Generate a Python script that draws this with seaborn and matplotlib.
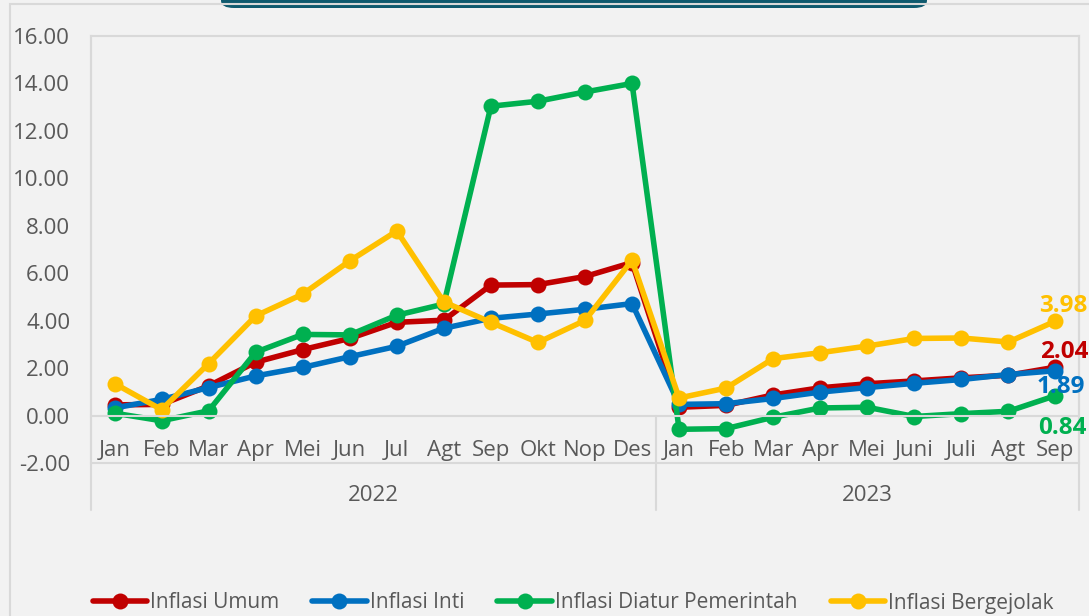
import matplotlib
matplotlib.use("Agg")
import matplotlib.pyplot as plt
from matplotlib.patches import Rectangle, FancyBboxPatch
import seaborn as sns
import pandas as pd
import numpy as np

# --- data ---
months = ["Jan", "Feb", "Mar", "Apr", "Mei", "Jun", "Jul", "Agt", "Sep", "Okt", "Nop", "Des",
          "Jan", "Feb", "Mar", "Apr", "Mei", "Juni", "Juli", "Agt", "Sep"]
years = ["2022", "2023"]
year_lengths = [12, 9]

inflasi_umum = [0.45, 0.47, 1.25, 2.25, 2.78, 3.25, 3.93, 4.02, 5.50, 5.52, 5.86, 6.45,
                0.35, 0.43, 0.87, 1.17, 1.34, 1.46, 1.59, 1.70, 2.04]
inflasi_inti = [0.32, 0.68, 1.18, 1.67, 2.03, 2.48, 2.92, 3.68, 4.10, 4.28, 4.48, 4.72,
                0.47, 0.50, 0.72, 0.99, 1.18, 1.36, 1.52, 1.73, 1.89]
inflasi_diatur = [0.10, -0.22, 0.20, 2.67, 3.42, 3.40, 4.23, 4.70, 13.04, 13.25, 13.64, 14.00,
                  -0.58, -0.55, -0.07, 0.32, 0.35, -0.04, 0.08, 0.18, 0.84]
inflasi_bergejolak = [1.35, 0.25, 2.19, 4.20, 5.12, 6.52, 7.78, 4.79, 3.93, 3.08, 4.01, 6.55,
                      0.74, 1.16, 2.40, 2.65, 2.93, 3.25, 3.27, 3.10, 3.98]

series_names = ["Inflasi Umum", "Inflasi Inti", "Inflasi Diatur Pemerintah", "Inflasi Bergejolak"]
series_values = [inflasi_umum, inflasi_inti, inflasi_diatur, inflasi_bergejolak]
colors = ["#C00000", "#0070C0", "#00B050", "#FFC000"]
# offset (points) of the end-of-line value label
label_offsets = [(6, 11), (4, -12), (5, -23), (6, 11)]

# --- style ---
sns.set_style("white")
bg = "#F2F2F2"
grey_line = "#D9D9D9"
text_col = "#595959"
plt.rcParams["font.family"] = ["Open Sans", "DejaVu Sans"]
plt.rcParams["axes.unicode_minus"] = False

W, H = 1089, 616
fig = plt.figure(figsize=(W / 100, H / 100), dpi=100, facecolor=bg)

# title box peeking in at the top, and the chart-area border
fig.patches.append(FancyBboxPatch((221 / W, 1 - 8 / H), (927 - 221) / W, 30 / H,
                                  boxstyle="round,pad=0,rounding_size=0.012",
                                  transform=fig.transFigure, facecolor="#0F5A6E",
                                  edgecolor="none", zorder=0))
fig.patches.append(Rectangle((10 / W, -0.05), 1.1, 1.05 - 4 / H, transform=fig.transFigure,
                             facecolor="none", edgecolor=grey_line, lw=1.5, zorder=1))

ax = fig.add_axes([91 / W, (H - 463) / H, (1079 - 91) / W, (463 - 36) / H], facecolor=bg)

x = np.arange(len(months))
for name, vals, col in zip(series_names, series_values, colors):
    df = pd.DataFrame({"x": x, "y": vals})
    sns.lineplot(data=df, x="x", y="y", ax=ax, color=col, lw=4, marker="o",
                 markersize=11.5, markeredgewidth=0, label=name, legend=False)

for vals, col, off in zip(series_values, colors, label_offsets):
    ax.annotate(f"{vals[-1]:.2f}", (x[-1], vals[-1]), xytext=off, textcoords="offset points",
                ha="center", va="center", color=col, fontsize=17.5, fontweight="bold",
                annotation_clip=False)

ax.set_xlim(-0.5, len(months) - 0.5)
ax.set_ylim(-2, 16)
ax.set_yticks(np.arange(-2, 17, 2))
ax.set_yticklabels([f"{v:.2f}" for v in np.arange(-2, 17, 2)])
ax.set_xticks(x)
ax.set_xticklabels(months)
ax.set_xlabel("")
ax.set_ylabel("")
ax.tick_params(axis="both", length=0, labelsize=16, labelcolor=text_col)
ax.tick_params(axis="y", pad=15)
ax.tick_params(axis="x", pad=17.5)

for side in ["top", "left", "right", "bottom"]:
    ax.spines[side].set_color(grey_line)
    ax.spines[side].set_linewidth(1.5)
ax.spines["bottom"].set_position(("data", 0))
ax.axhline(-2, color=grey_line, lw=1.5, clip_on=False, zorder=0)

# multi-level category dividers and year labels
tr = ax.get_xaxis_transform()
y_zero = 2 / 18
bounds = np.concatenate([[0], np.cumsum(year_lengths)]) - 0.5
for i, b in enumerate(bounds):
    y_top = 1 if i in (0, len(bounds) - 1) else y_zero
    ax.plot([b, b], [y_top, -0.11], transform=tr, color=grey_line, lw=1.5, clip_on=False, zorder=0)
for yr, lo, hi in zip(years, bounds[:-1], bounds[1:]):
    ax.text((lo + hi) / 2, -0.075, yr, transform=tr, ha="center", va="center",
            fontsize=16, color=text_col)

handles, labels = ax.get_legend_handles_labels()
fig.legend(handles, labels, loc="center", bbox_to_anchor=(573 / W, 1 - 603 / H), ncol=4,
           frameon=False, fontsize=15, labelcolor=text_col, handlelength=2.6,
           handletextpad=0.15, columnspacing=1.6, borderaxespad=0)

fig.savefig("out.png", dpi=100, facecolor=bg)
